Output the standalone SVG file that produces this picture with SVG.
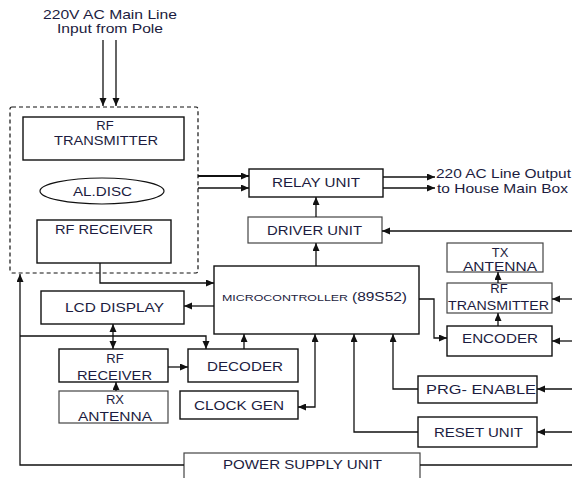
<svg xmlns="http://www.w3.org/2000/svg" width="572" height="478" viewBox="0 0 572 478">
<style>
  .box{fill:#fff;stroke:#111;stroke-width:1.4}
  .boxg{fill:#fff;stroke:#444;stroke-width:1.2}
  .t{font-family:"Liberation Sans",Arial,sans-serif;font-size:13px;fill:#1c1c40}
  .s{font-family:"Liberation Sans",Arial,sans-serif;font-size:8.5px;fill:#1c1c40}
  .c{fill:none;stroke:#111;stroke-width:1.3}
  .k{fill:none;stroke:#111;stroke-width:2.2}
  .a{marker-end:url(#ah)}
  .b{marker-start:url(#ahs);marker-end:url(#ah)}
</style>
<defs>
  <marker id="ah" markerUnits="userSpaceOnUse" markerWidth="9" markerHeight="8" refX="8" refY="3.5" orient="auto">
    <path d="M0,0 L8,3.5 L0,7 z" fill="#111"/>
  </marker>
  <marker id="ahs" markerUnits="userSpaceOnUse" markerWidth="9" markerHeight="8" refX="0" refY="3.5" orient="auto">
    <path d="M8,0 L0,3.5 L8,7 z" fill="#111"/>
  </marker>
</defs>
<rect width="572" height="478" fill="#fff"/>

<g id="input-label">
  <text class="t" x="43" y="19" textLength="134" lengthAdjust="spacingAndGlyphs">220V AC Main Line</text>
  <text class="t" x="57" y="33" textLength="106" lengthAdjust="spacingAndGlyphs">Input from Pole</text>
</g>

<g id="controller-panel">
  <rect x="10" y="107" width="188" height="166" rx="2" fill="none" stroke="#111" stroke-width="1.2" stroke-dasharray="4,3"/>
</g>
<g id="rf-transmitter-left">
  <rect class="box" x="23" y="117" width="161" height="43"/>
  <text class="t" x="105" y="130" text-anchor="middle">RF</text>
  <text class="t" x="54" y="145" textLength="104" lengthAdjust="spacingAndGlyphs">TRANSMITTER</text>
</g>
<g id="al-disc">
  <ellipse cx="102" cy="191" rx="62" ry="13" fill="#fff" stroke="#111" stroke-width="1.2"/>
  <text class="t" x="73" y="196" textLength="59" lengthAdjust="spacingAndGlyphs">AL.DISC</text>
</g>
<g id="rf-receiver-top">
  <rect class="box" x="37" y="220" width="134" height="43"/>
  <text class="t" x="55" y="234" textLength="98" lengthAdjust="spacingAndGlyphs">RF RECEIVER</text>
</g>

<g id="relay-unit">
  <rect class="box" x="249" y="169" width="134" height="28"/>
  <text class="t" x="272" y="187" textLength="88" lengthAdjust="spacingAndGlyphs">RELAY UNIT</text>
</g>
<g id="output-label">
  <text class="t" x="436" y="178" textLength="135" lengthAdjust="spacingAndGlyphs">220 AC Line Output</text>
  <text class="t" x="437" y="193" textLength="131" lengthAdjust="spacingAndGlyphs">to House Main Box</text>
</g>
<g id="driver-unit">
  <rect class="boxg" x="248" y="217" width="134" height="26"/>
  <text class="t" x="267" y="235" textLength="95" lengthAdjust="spacingAndGlyphs">DRIVER UNIT</text>
</g>

<g id="microcontroller">
  <rect class="box" x="214" y="266" width="205" height="68"/>
  <text class="s" x="222" y="301" textLength="126" lengthAdjust="spacingAndGlyphs">MICROCONTROLLER</text>
  <text class="t" x="352" y="301" textLength="55" lengthAdjust="spacingAndGlyphs">(89S52)</text>
</g>

<g id="lcd-display">
  <rect class="box" x="41" y="291" width="143" height="33"/>
  <text class="t" x="65" y="312" textLength="99" lengthAdjust="spacingAndGlyphs">LCD DISPLAY</text>
</g>
<g id="rf-receiver-bottom">
  <rect class="box" x="59" y="349" width="109" height="33"/>
  <text class="t" x="115" y="363" text-anchor="middle">RF</text>
  <text class="t" x="77" y="380" textLength="75" lengthAdjust="spacingAndGlyphs">RECEIVER</text>
</g>
<g id="rx-antenna">
  <rect class="boxg" x="59" y="391" width="109" height="32"/>
  <text class="t" x="115" y="404" text-anchor="middle">RX</text>
  <text class="t" x="78" y="421" textLength="74" lengthAdjust="spacingAndGlyphs">ANTENNA</text>
</g>
<g id="decoder">
  <rect class="box" x="188" y="349" width="110" height="33"/>
  <text class="t" x="207" y="371" textLength="76" lengthAdjust="spacingAndGlyphs">DECODER</text>
</g>
<g id="clock-gen">
  <rect class="box" x="180" y="391" width="118" height="28"/>
  <text class="t" x="194" y="410" textLength="90" lengthAdjust="spacingAndGlyphs">CLOCK GEN</text>
</g>

<g id="tx-antenna">
  <rect class="boxg" x="447" y="243" width="96" height="29"/>
  <text class="t" x="500" y="257" text-anchor="middle">TX</text>
  <text class="t" x="463" y="271" textLength="74" lengthAdjust="spacingAndGlyphs">ANTENNA</text>
</g>
<g id="rf-transmitter-right">
  <rect class="boxg" x="447" y="283" width="105" height="30"/>
  <text class="t" x="499" y="293" text-anchor="middle">RF</text>
  <text class="t" x="448" y="310" textLength="101" lengthAdjust="spacingAndGlyphs">TRANSMITTER</text>
</g>
<g id="encoder">
  <rect class="box" x="447" y="326" width="105" height="30"/>
  <text class="t" x="462" y="343" textLength="76" lengthAdjust="spacingAndGlyphs">ENCODER</text>
</g>
<g id="prg-enable">
  <rect class="box" x="418" y="376" width="119" height="27"/>
  <text class="t" x="426" y="394" textLength="110" lengthAdjust="spacingAndGlyphs">PRG- ENABLE</text>
</g>
<g id="reset-unit">
  <rect class="box" x="418" y="417" width="119" height="30"/>
  <text class="t" x="434" y="437" textLength="89" lengthAdjust="spacingAndGlyphs">RESET UNIT</text>
</g>
<g id="power-supply">
  <rect class="boxg" x="184" y="453" width="236" height="30"/>
  <text class="t" x="223" y="469" textLength="159" lengthAdjust="spacingAndGlyphs">POWER SUPPLY UNIT</text>
</g>

<g id="connectors">
  <path class="c a" d="M103,40 V106" stroke-width="1.6"/>
  <path class="c a" d="M116,40 V106" stroke-width="1.6"/>
  <path class="k a" d="M198,176 H249"/>
  <path class="c a" d="M198,188 H249"/>
  <path class="c a" d="M383,177 H435"/>
  <path class="c a" d="M383,188 H435"/>
  <path class="c a" d="M316,217 V197"/>
  <path class="c a" d="M316,266 V243"/>
  <path class="c a" d="M572,231 H382" stroke-width="1.8"/>
  <path class="c a" d="M100,263 V283 H214"/>
  <path class="c a" d="M214,306 H184"/>
  <path class="c b" d="M113,324 V349" stroke-width="2"/>
  <path class="c a" d="M184,465 H20 V274"/>
  <path class="c a" d="M20,336 H206 V349"/>
  <path class="c a" d="M168,367 H188"/>
  <path class="c a" d="M116,391 V382"/>
  <path class="c a" d="M244,349 V334"/>
  <path class="c b" d="M298,407 H315 V334"/>
  <path class="c a" d="M418,432 H354 V334"/>
  <path class="c a" d="M418,389 H393 V334"/>
  <path class="c a" d="M419,299 H434 V338 H447"/>
  <path class="c a" d="M498,326 V313"/>
  <path class="c a" d="M498,283 V272"/>
  <path class="c a" d="M572,299 H552"/>
  <path class="c a" d="M572,341 H552" stroke-width="1.8"/>
  <path class="c a" d="M572,389 H537"/>
  <path class="c a" d="M572,432 H537"/>
  <path class="c" d="M420,465 H572"/>
</g>
</svg>
